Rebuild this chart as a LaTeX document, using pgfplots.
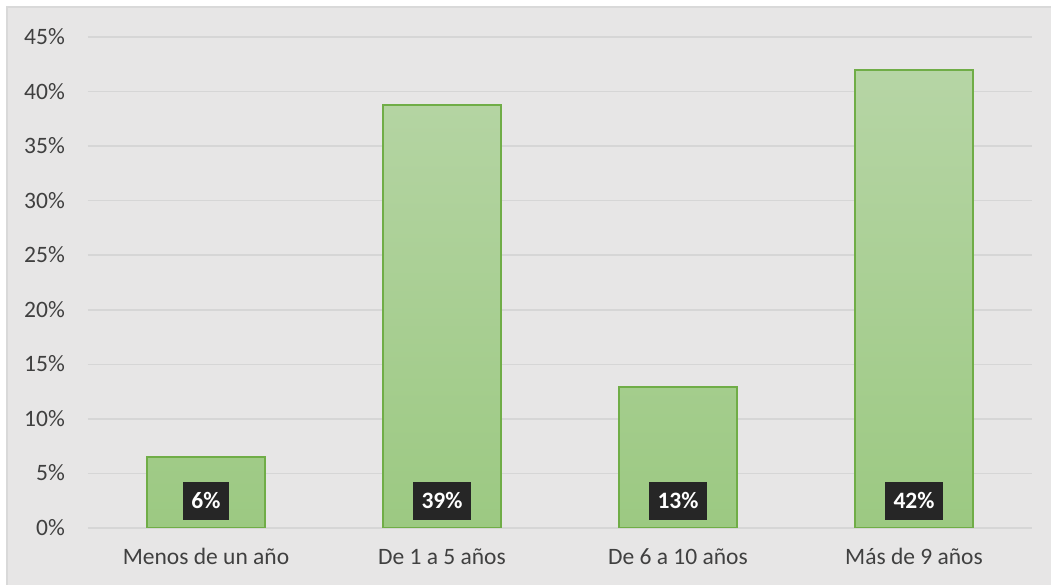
\documentclass[border=0pt]{standalone}
\usepackage{pgfplots}
\pgfplotsset{compat=1.18}
\usepackage{fontspec}
\setmainfont{Carlito}
\definecolor{bg}{HTML}{E7E6E6}
\definecolor{gridc}{HTML}{D6D6D6}
\definecolor{frame}{HTML}{D9D9D9}
\definecolor{bartop}{HTML}{B6D5A5}
\definecolor{barbot}{HTML}{9CC982}
\definecolor{baredge}{HTML}{70AD47}
\definecolor{txt}{HTML}{404040}
\definecolor{lbl}{HTML}{262626}
\begin{document}
\fontsize{23.5bp}{28bp}\selectfont
\begin{tikzpicture}[x=1bp,y=1bp]
\clip (-88,-57) rectangle (963,528);
\fill[white] (-88,-57) rectangle (963,528);
\filldraw[fill=bg, draw=frame, line width=1.5bp] (-81,-80) rectangle (990,521);
\begin{axis}[
  scale only axis,
  width=944bp, height=491bp,
  xmin=-0.5, xmax=3.5,
  ymin=0, ymax=45,
  axis line style={draw=none},
  tick style={draw=none},
  ymajorgrids,
  grid style={gridc, line width=1.5bp},
  xtick={0,1,2,3},
  xticklabels={Menos de un año, De 1 a 5 años, De 6 a 10 años, Más de 9 años},
  ytick={0,5,...,45},
  yticklabels={0\%,5\%,10\%,15\%,20\%,25\%,30\%,35\%,40\%,45\%},
  xticklabel style={anchor=base, inner sep=0pt, yshift=-37bp, text=txt},
  yticklabel style={anchor=base east, inner sep=0pt, xshift=-23bp, yshift=-7.5bp, text=txt},
  font=\fontsize{23.5bp}{28bp}\selectfont,
]
\addplot[ybar, bar width=118bp, bar shift=0pt, draw=baredge, line width=2bp,
  top color=bartop, bottom color=barbot]
  coordinates {(0,6.5) (1,38.76) (2,12.92) (3,41.97)};
\addplot[draw=none, mark=none, nodes near coords, point meta=explicit symbolic,
  every node near coord/.style={anchor=center, fill=lbl, text=white,
    font=\fontsize{23.5bp}{28bp}\selectfont\bfseries,
    inner xsep=8.5bp, minimum height=38bp, text height=15bp, text depth=0pt}]
  coordinates {(0,2.47) [6\%] (1,2.47) [39\%] (2,2.47) [13\%] (3,2.47) [42\%]};
\end{axis}
\end{tikzpicture}
\end{document}
